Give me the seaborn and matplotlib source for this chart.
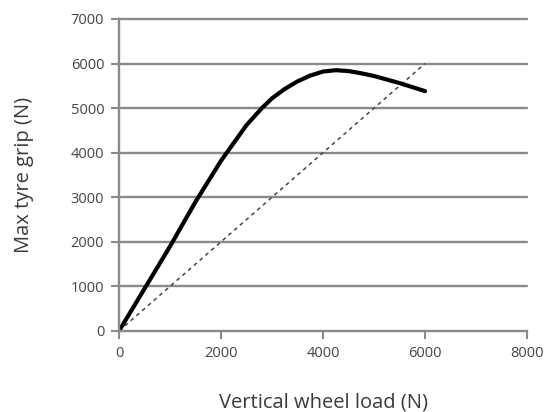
import matplotlib
matplotlib.use('Agg')
import matplotlib.pyplot as plt
import pandas as pd
import seaborn as sns

# values
load = [0, 500, 1000, 1500, 2000, 2500, 2800, 3000, 3250, 3500, 3750, 4000,
        4250, 4500, 4750, 5000, 5500, 6000]
grip = [0, 950, 1900, 2900, 3820, 4620, 5000, 5220, 5430, 5600, 5730, 5820,
        5850, 5830, 5780, 5720, 5560, 5380]
ref_load = [0, 6000]
ref_grip = [0, 6000]

x_ticks = [0, 2000, 4000, 6000, 8000]
y_ticks = [0, 1000, 2000, 3000, 4000, 5000, 6000, 7000]

sns.set_theme(style='white')
plt.rcParams['font.family'] = ['Open Sans', 'DejaVu Sans']

df = pd.DataFrame({'load': load, 'grip': grip})
ref = pd.DataFrame({'load': ref_load, 'grip': ref_grip})

fig, ax = plt.subplots(figsize=(5.49, 4.12), dpi=100)
fig.subplots_adjust(left=0.217, right=0.960, top=0.954, bottom=0.197)

for y in y_ticks[1:]:
    ax.axhline(y, color='#8a8a8a', lw=1.7, zorder=0, clip_on=False)

sns.lineplot(data=ref, x='load', y='grip', ax=ax, color='#444444', lw=1.1,
             linestyle=(0, (2.5, 2.5)))
sns.lineplot(data=df, x='load', y='grip', ax=ax, color='black', lw=3)

ax.set_xlim(0, 8000)
ax.set_ylim(0, 7000)
ax.set_xticks(x_ticks)
ax.set_yticks(y_ticks)
ax.tick_params(axis='both', colors='#8a8a8a', labelcolor='#444444', labelsize=10.5,
               length=5.8, width=1.5, pad=5, direction='out', bottom=True, left=True)
for s in ['top', 'right']:
    ax.spines[s].set_visible(False)
for s in ['left', 'bottom']:
    ax.spines[s].set_color('#8a8a8a')
    ax.spines[s].set_linewidth(1.7)

ax.set_xlabel('Vertical wheel load (N)', fontsize=14.5, color='#3a3a3a', va='center')
ax.set_ylabel('Max tyre grip (N)', fontsize=14.5, color='#3a3a3a', va='center')
ax.xaxis.set_label_coords(0.5, -0.231)
ax.yaxis.set_label_coords(-0.232, 0.5)

fig.savefig('out.png', dpi=100)
